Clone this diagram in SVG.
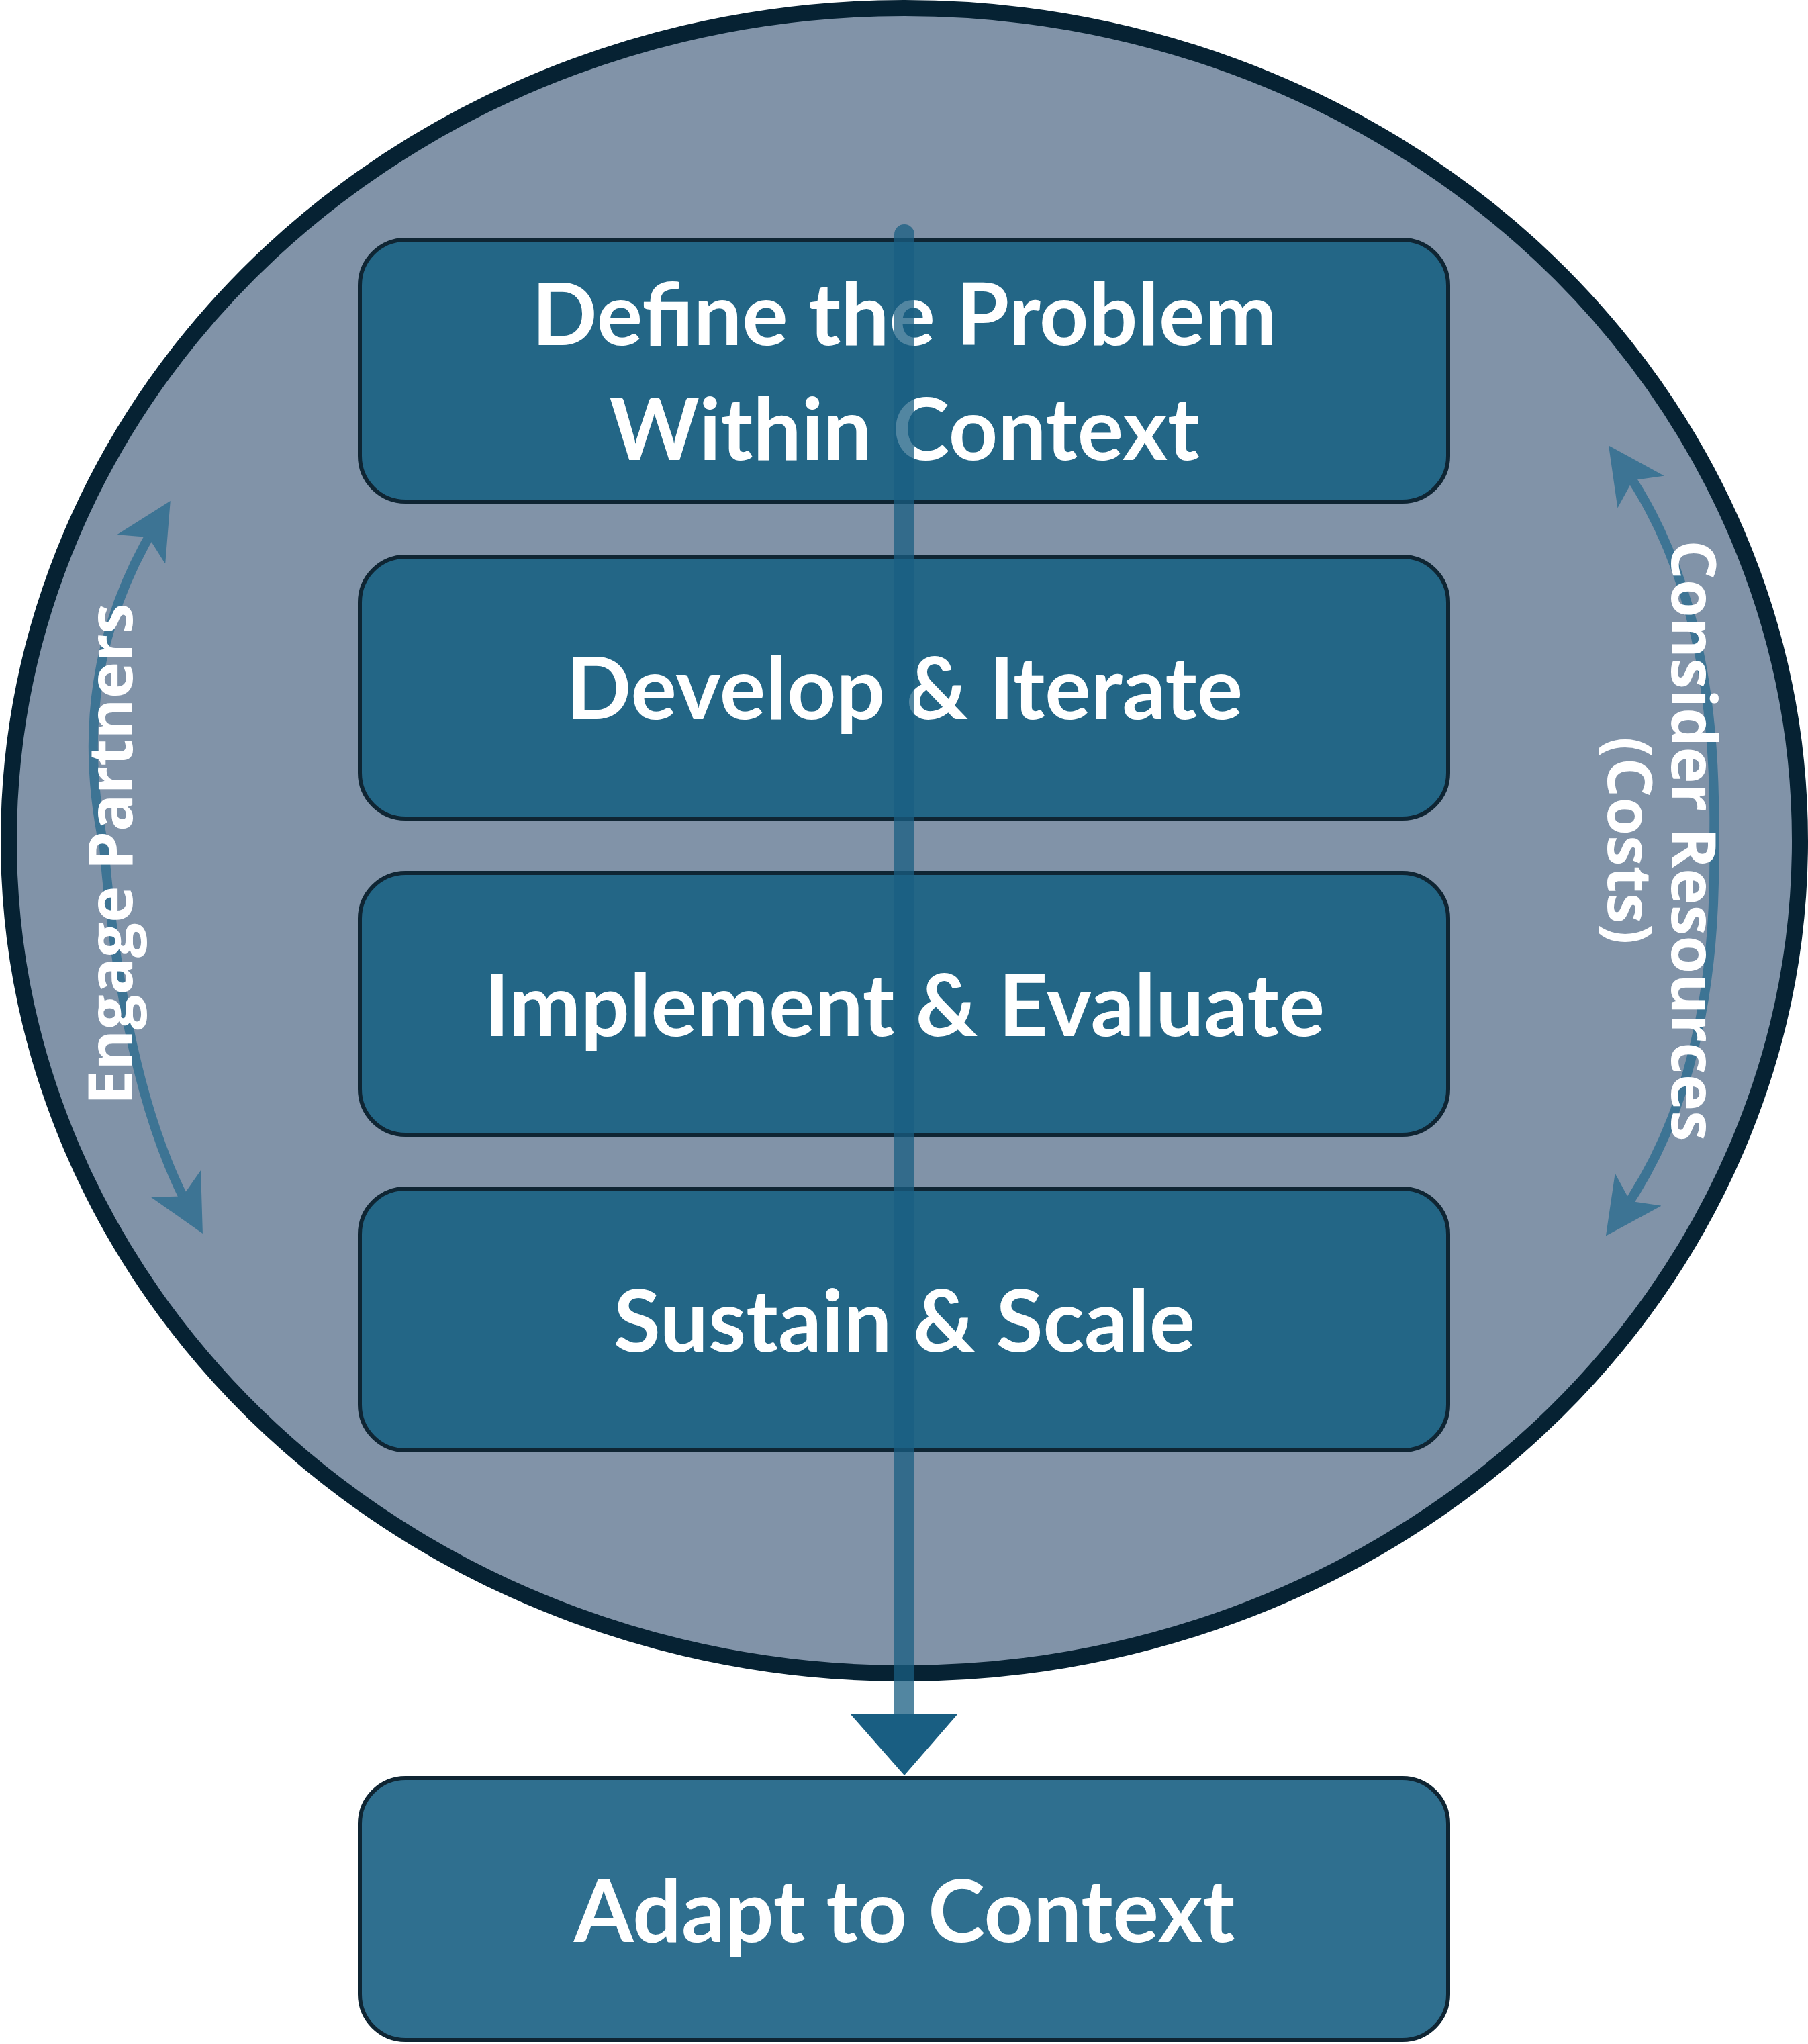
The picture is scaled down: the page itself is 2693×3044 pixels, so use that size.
<svg xmlns="http://www.w3.org/2000/svg" width="2693" height="3044" viewBox="0 0 2693 3044">
<style>
.box{fill:#236686;stroke:#0f2533;stroke-width:6}
.t{font-family:Lato,"Open Sans",sans-serif;font-weight:bold;font-size:128px;fill:#fff;text-anchor:middle}
.s{font-family:"Open Sans",Lato,sans-serif;font-weight:bold;font-size:92px;fill:#fff;text-anchor:middle}
.arc{fill:none;stroke:#3d7494;stroke-width:14}
</style>
<defs>
<marker id="ah" markerWidth="6" markerHeight="6" refX="3" refY="3" orient="auto-start-reverse" markerUnits="strokeWidth"><path d="M0,0 L6,3 L0,6 L1.5,3 z" fill="#3d7494"/></marker>
</defs>
<rect width="2693" height="3044" fill="#fff"/>
<ellipse cx="1347" cy="1252" rx="1334" ry="1240" fill="#8193a8" stroke="#062233" stroke-width="24"/>
<g id="n1"><rect class="box" x="536" y="357" width="1621" height="390" rx="68"/><text class="t" x="1347" y="514">Define the Problem</text><text class="t" x="1347" y="685">Within Context</text></g>
<g id="n2"><rect class="box" x="536" y="829" width="1621" height="390" rx="68"/><text class="t" x="1347" y="1071">Develop &amp; Iterate</text></g>
<g id="n3"><rect class="box" x="536" y="1300" width="1621" height="390" rx="68"/><text class="t" x="1347" y="1543">Implement &amp; Evaluate</text></g>
<g id="n4"><rect class="box" x="536" y="1770" width="1621" height="390" rx="68"/><text class="t" x="1347" y="2013">Sustain &amp; Scale</text></g>
<g id="n5"><rect class="box" x="536" y="2648" width="1621" height="390" rx="68" style="fill:#2f6f8f"/><text class="t" x="1347" y="2892">Adapt to Context</text></g>
<g id="connectors">
<line x1="1347" y1="349" x2="1347" y2="2560" stroke="#195e82" stroke-width="30" stroke-linecap="round" opacity="0.75"/>
<polygon points="1266,2552 1427,2552 1347,2644" fill="#195e82"/>
<path class="arc" d="M232,782 Q100,1000 155,1262 Q185,1620 282,1800" marker-start="url(#ah)" marker-end="url(#ah)"/>
<path class="arc" d="M2420,698 Q2560,900 2553,1252 Q2560,1600 2416,1806" marker-start="url(#ah)" marker-end="url(#ah)"/>
</g>
<g id="labels">
<text class="s" transform="translate(197,1272) rotate(-90)">Engage Partners</text>
<text class="s" transform="translate(2490,1252) rotate(90)">Consider Resources</text>
<text class="s" transform="translate(2395,1252) rotate(90)">(Costs)</text>
</g>
</svg>
